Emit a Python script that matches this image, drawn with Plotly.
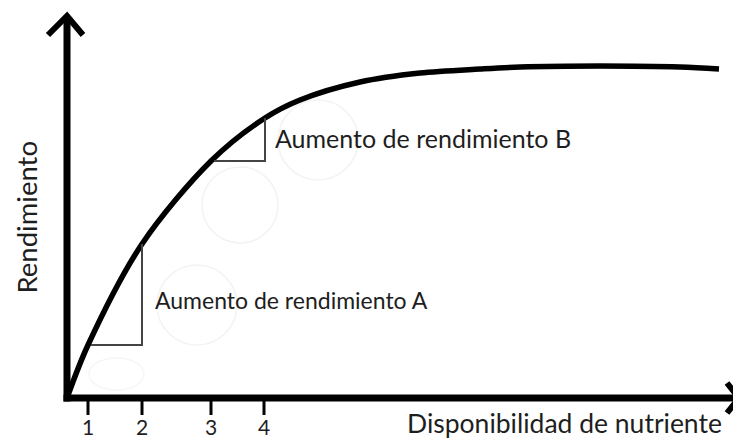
import plotly.graph_objects as go

# Data (x: nutrient availability, y: yield) in arbitrary units
nutrient = [0, 2.1, 7.5, 14.4, 19.8, 23.3, 29.3, 35.3, 41.3, 45.3, 53.3, 61.3, 65.2]
yield_ = [0, 5.3, 15.4, 23.7, 28.0, 29.8, 31.6, 32.5, 32.9, 33.1, 33.2, 33.1, 32.9]
tick_pos = [2.1, 7.5, 14.4, 19.7]
tick_labels = ["1", "2", "3", "4"]
inc_A = (2.1, 7.5)    # x interval for increment A
inc_B = (14.4, 19.8)  # x interval for increment B
y_A = (5.3, 15.4)
y_B = (23.7, 28.0)

FONT = "Lato"
TXT = "#1e1e1e"

fig = go.Figure()

# faint background circles (artefacts in original)
shapes = []
for cx, cy, r in [(17.3, 19.3, 3.8), (25.1, 25.8, 4.0), (13.0, 9.3, 4.0)]:
    shapes.append(dict(type="circle", xref="x", yref="y", x0=cx - r, x1=cx + r, y0=cy - r, y1=cy + r,
                       line=dict(color="#f3f3f3", width=1.5), layer="below"))
shapes.append(dict(type="circle", xref="x", yref="y", x0=2.2, x1=7.7, y0=0.8, y1=4.0,
                   line=dict(color="#f6f6f6", width=1.5), layer="below"))

fig.add_trace(go.Scatter(x=nutrient, y=yield_, mode="lines",
                         line=dict(color="black", width=5.5, shape="spline", smoothing=0.9),
                         hoverinfo="skip", showlegend=False))

# increment triangles
for (xa, xb), (ya, yb) in [(inc_A, y_A), (inc_B, y_B)]:
    fig.add_trace(go.Scatter(x=[xa + 0.3, xb, xb], y=[ya, ya, yb], mode="lines",
                             line=dict(color="#444", width=2), hoverinfo="skip", showlegend=False))

ax_col = "black"
shapes += [
    dict(type="line", xref="x", yref="y", x0=0, y0=-0.35, x1=0, y1=38.2, line=dict(color=ax_col, width=7)),
    dict(type="line", xref="x", yref="y", x0=-0.35, y0=0, x1=67.0, y1=0, line=dict(color=ax_col, width=7)),
    dict(type="path", xref="x", yref="y", path="M -1.9,36.3 L 0,38.2 L 1.6,36.3",
         line=dict(color=ax_col, width=6)),
    dict(type="path", xref="x", yref="y", path="M 66.0,1.5 L 67.2,0 L 66.0,-1.5",
         line=dict(color=ax_col, width=6)),
]
for t in tick_pos:
    shapes.append(dict(type="line", xref="x", yref="y", x0=t, x1=t, y0=0, y1=-1.7,
                       line=dict(color=ax_col, width=3)))

annotations = []
for t, lab in zip(tick_pos, tick_labels):
    annotations.append(dict(x=t, y=-2.8, xref="x", yref="y", text=lab, showarrow=False,
                            font=dict(family=FONT, size=21, color=TXT), xanchor="center", yanchor="middle"))
annotations += [
    dict(x=8.6, y=9.8, xref="x", yref="y", text="Aumento de rendimiento A", showarrow=False,
         font=dict(family=FONT, size=23, color=TXT), xanchor="left", yanchor="middle"),
    dict(x=20.6, y=26.0, xref="x", yref="y", text="Aumento de rendimiento B", showarrow=False,
         font=dict(family=FONT, size=25, color=TXT), xanchor="left", yanchor="middle"),
    dict(x=65.7, y=-2.45, xref="x", yref="y", text="Disponibilidad de nutriente", showarrow=False,
         font=dict(family=FONT, size=26.5, color=TXT), xanchor="right", yanchor="middle"),
    dict(x=-4.15, y=18.0, xref="x", yref="y", text="Rendimiento", showarrow=False, textangle=-90,
         font=dict(family=FONT, size=27.5, color=TXT), xanchor="center", yanchor="middle"),
]

# page has an 8px body margin: figure spans window px 8..741 x 8..439
fig.update_layout(
    width=733, height=431, margin=dict(l=0, r=0, t=0, b=0),
    paper_bgcolor="white", plot_bgcolor="white",
    xaxis=dict(range=[-5.9, 67.4], visible=False, fixedrange=True),
    yaxis=dict(range=[-4.1, 39.0], visible=False, fixedrange=True),
    shapes=shapes, annotations=annotations,
)

fig.write_html("out.html")
